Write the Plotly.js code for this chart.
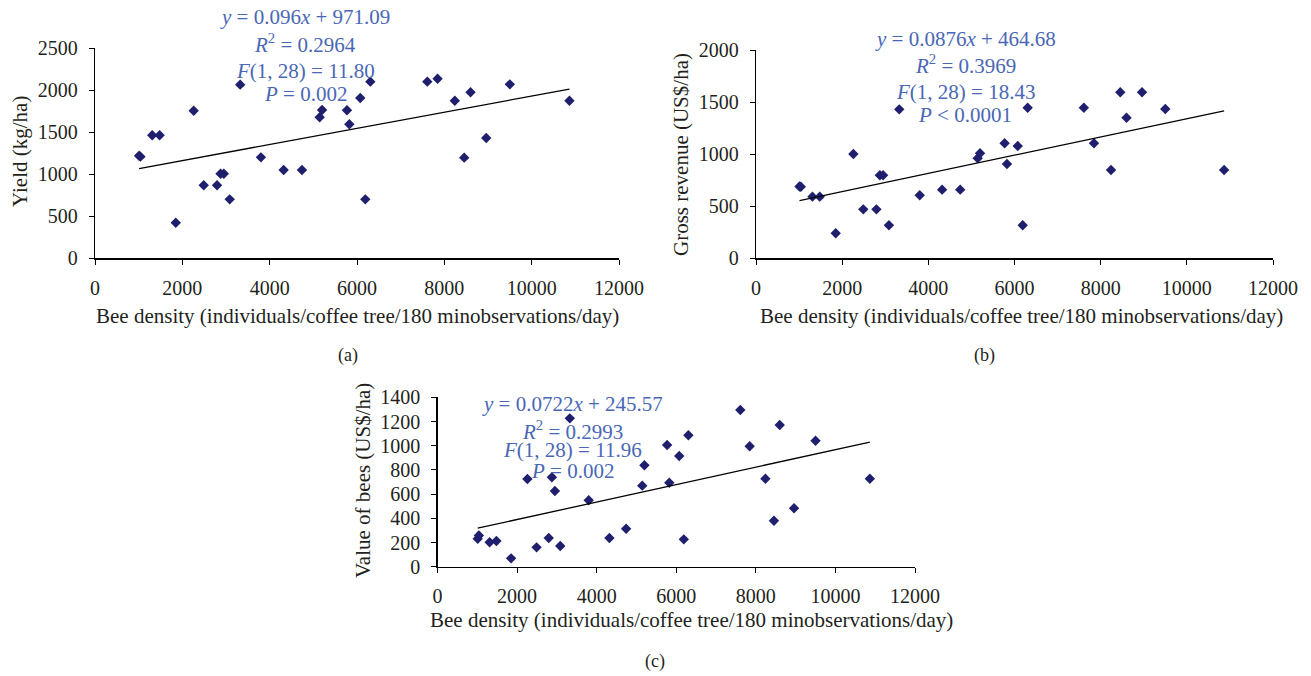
<!DOCTYPE html>
<html>
<head>
<meta charset="utf-8">
<script src="https://cdn.plot.ly/plotly-3.0.1.min.js"></script>
<style>html,body{margin:0;padding:0;background:#fff;}#chart{width:1311px;height:676px;}</style>
</head>
<body>
<div id="chart"></div>
<script>
// ---- data ----
const beeDensity = [1010, 1040, 1310, 1480, 1850, 2260, 2490, 2795, 2875, 2950, 3085, 3325, 3800, 4320, 4740,
                    5145, 5200, 5770, 5825, 6075, 6190, 6305, 7610, 7845, 8240, 8455, 8600, 8960, 9500, 10865];
const yieldKgHa = [1220, 1210, 1464, 1464, 424, 1757, 869, 869, 1007, 1007, 702, 2067, 1202, 1051, 1051,
                   1679, 1765, 1762, 1595, 1908, 702, 2103, 2103, 2138, 1876, 1198, 1976, 1432, 2071, 1876];
const grossRevenue = [690, 687, 592, 592, 240, 1001, 470, 470, 797, 797, 317, 1430, 605, 659, 659,
                      960, 1008, 1104, 905, 1078, 317, 1446, 1446, 1104, 848, 1594, 1350, 1594, 1433, 848];
const valueOfBees = [230, 258, 202, 212, 69, 725, 160, 237, 739, 626, 171, 1226, 549, 237, 314,
                     670, 838, 1006, 694, 915, 226, 1086, 1295, 995, 727, 380, 1171, 483, 1041, 727];

const fitA = {slope: 0.096, intercept: 971.09};
const fitB = {slope: 0.0876, intercept: 464.68};
const fitC = {slope: 0.0722, intercept: 245.57};

const statsA = ['<i>y</i> = 0.096<i>x</i> + 971.09', '<i>R</i><sup>2</sup> = 0.2964', '<i>F</i>(1, 28) = 11.80', '<i>P</i> = 0.002'];
const statsB = ['<i>y</i> = 0.0876<i>x</i> + 464.68', '<i>R</i><sup>2</sup> = 0.3969', '<i>F</i>(1, 28) = 18.43', '<i>P</i> &lt; 0.0001'];
const statsC = ['<i>y</i> = 0.0722<i>x</i> + 245.57', '<i>R</i><sup>2</sup> = 0.2993', '<i>F</i>(1, 28) = 11.96', '<i>P</i> = 0.002'];

const xTitle = 'Bee density (individuals/coffee tree/180 minobservations/day)';
const yTitles = ['Yield (kg/ha)', 'Gross revenue (US$/ha)', 'Value of bees (US$/ha)'];
const panelLabels = ['(a)', '(b)', '(c)'];

// ---- layout helpers ----
const W = 1311, H = 676;
const px = x => x / W;
const py = y => 1 - y / H;
const FONT = 'Liberation Serif, Times New Roman, serif';
const MARK = '#1f1f6e';
const BLUE = '#4a67b5';
const INK = '#231f20';

const xmin = Math.min(...beeDensity), xmax = Math.max(...beeDensity);
function trend(fit, xa, ya) {
  return {x: [xmin, xmax], y: [fit.slope * xmin + fit.intercept, fit.slope * xmax + fit.intercept],
          xaxis: xa, yaxis: ya, mode: 'lines', line: {color: '#000', width: 1.3}, hoverinfo: 'skip'};
}
function pts(yv, xa, ya) {
  return {x: beeDensity, y: yv, xaxis: xa, yaxis: ya, mode: 'markers', type: 'scatter',
          marker: {symbol: 'diamond', size: 8, color: MARK}};
}

const traces = [
  pts(yieldKgHa, 'x', 'y'), trend(fitA, 'x', 'y'),
  pts(grossRevenue, 'x2', 'y2'), trend(fitB, 'x2', 'y2'),
  pts(valueOfBees, 'x3', 'y3'), trend(fitC, 'x3', 'y3')
];

function xax(d0, d1, anchor) {
  return {domain: [px(d0), px(d1)], anchor: anchor, range: [0, 12000], dtick: 2000, tick0: 0, tickformat: 'd',
          showgrid: false, zeroline: false, showline: true, linecolor: '#000', linewidth: 1.2,
          ticks: 'outside', ticklen: 5, tickcolor: '#000', ticklabelstandoff: 6,
          tickfont: {family: FONT, size: 20, color: INK}, fixedrange: true};
}
function yax(d0, d1, anchor, max, dt) {
  return {domain: [py(d0), py(d1)], anchor: anchor, range: [0, max], dtick: dt, tick0: 0, tickformat: 'd',
          showgrid: false, zeroline: false, showline: true, linecolor: '#000', linewidth: 1.2,
          ticks: 'outside', ticklen: 5, tickcolor: '#000', ticklabelstandoff: 7,
          tickfont: {family: FONT, size: 20, color: INK}, fixedrange: true};
}

const ann = [];
function txt(text, x, y, opts) {
  ann.push(Object.assign({text: text, xref: 'paper', yref: 'paper', x: px(x), y: py(y),
    xanchor: 'center', yanchor: 'middle', showarrow: false,
    font: {family: FONT, size: 21, color: INK}}, opts || {}));
}
function stats(lines, cx, ys) {
  lines.forEach((t, i) => txt(t, cx, ys[i], {font: {family: FONT, size: 21, color: BLUE}}));
}
stats(statsA, 305, [17, 43, 71, 94]);
stats(statsB, 965, [39, 64, 92, 115]);
stats(statsC, 572, [404, 430, 450, 471]);

txt(xTitle, 357, 316);
txt(xTitle, 1021, 316);
txt(xTitle, 691, 620);
txt(yTitles[0], 20, 152, {textangle: -90});
txt(yTitles[1], 681, 155, {textangle: -90});
txt(yTitles[2], 363, 481, {textangle: -90});
txt(panelLabels[0], 348, 355, {font: {family: FONT, size: 18, color: INK}});
txt(panelLabels[1], 984, 355, {font: {family: FONT, size: 18, color: INK}});
txt(panelLabels[2], 655, 661, {font: {family: FONT, size: 18, color: INK}});

const layout = {
  width: W, height: H, margin: {l: 0, r: 0, t: 0, b: 0},
  paper_bgcolor: '#fff', plot_bgcolor: 'rgba(0,0,0,0)', showlegend: false,
  xaxis: xax(95, 619, 'y'), yaxis: yax(258.3, 48.3, 'x', 2500, 500),
  xaxis2: xax(756, 1273, 'y2'), yaxis2: yax(258.3, 50, 'x2', 2000, 500),
  xaxis3: xax(437.5, 915, 'y3'), yaxis3: yax(566.7, 397.3, 'x3', 1400, 200),
  annotations: ann
};
Plotly.newPlot('chart', traces, layout, {displayModeBar: false, staticPlot: true});
</script>
</body>
</html>
